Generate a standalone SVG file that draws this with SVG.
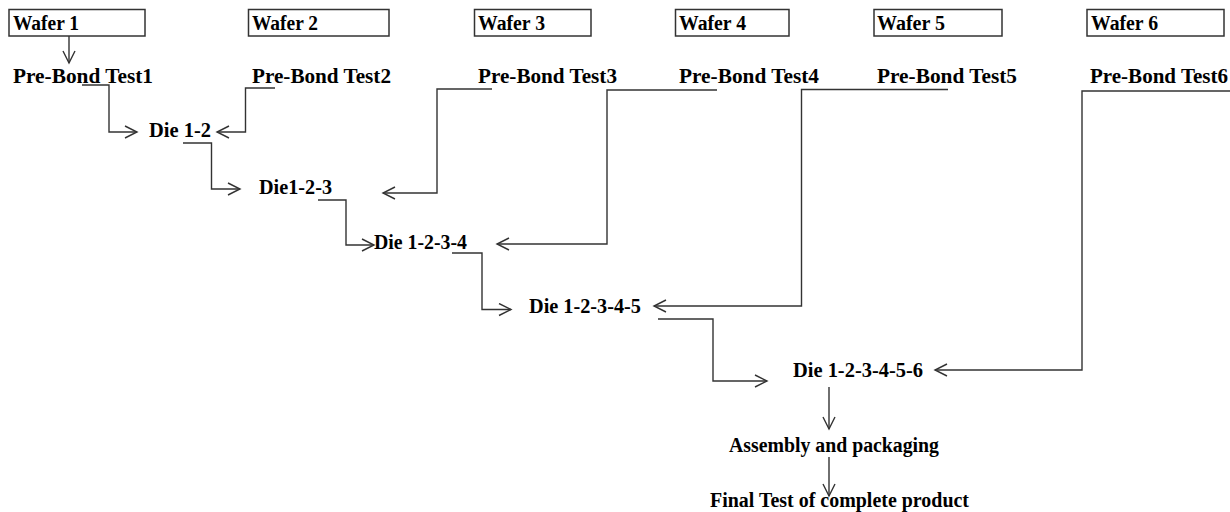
<svg xmlns="http://www.w3.org/2000/svg" width="1230" height="512" viewBox="0 0 1230 512">
<style>
.t{font-family:"Liberation Serif","Times New Roman",serif;font-weight:bold;font-size:20px;fill:#000}
.box{fill:#fff;stroke:#333;stroke-width:1.5}
.c{fill:none;stroke:#333;stroke-width:1.4}
</style>
<defs>
<marker id="ah" markerUnits="userSpaceOnUse" markerWidth="16" markerHeight="16" refX="13" refY="7" orient="auto">
<path d="M1,1 L13,7 L1,13" fill="none" stroke="#333" stroke-width="1.4"/>
</marker>
</defs>
<rect width="1230" height="512" fill="#fff"/>
<g id="wafer1"><rect class="box" x="9" y="9.5" width="136" height="26.5"/><text class="t" x="13" y="30" textLength="66" lengthAdjust="spacingAndGlyphs">Wafer 1</text></g>
<g id="wafer2"><rect class="box" x="248.5" y="9.5" width="140.5" height="26.5"/><text class="t" x="252" y="30" textLength="66" lengthAdjust="spacingAndGlyphs">Wafer 2</text></g>
<g id="wafer3"><rect class="box" x="474.5" y="9.5" width="116.5" height="26.5"/><text class="t" x="478" y="30" textLength="67" lengthAdjust="spacingAndGlyphs">Wafer 3</text></g>
<g id="wafer4"><rect class="box" x="675.5" y="9.5" width="113.5" height="26.5"/><text class="t" x="679" y="30" textLength="67" lengthAdjust="spacingAndGlyphs">Wafer 4</text></g>
<g id="wafer5"><rect class="box" x="874" y="9.5" width="128" height="26.5"/><text class="t" x="877" y="30" textLength="68" lengthAdjust="spacingAndGlyphs">Wafer 5</text></g>
<g id="wafer6"><rect class="box" x="1087" y="9.5" width="137" height="26.5"/><text class="t" x="1091" y="30" textLength="67" lengthAdjust="spacingAndGlyphs">Wafer 6</text></g>
<g id="pbt1"><text class="t" x="13" y="83" textLength="140" lengthAdjust="spacingAndGlyphs">Pre-Bond Test1</text></g>
<g id="pbt2"><text class="t" x="252" y="83" textLength="139" lengthAdjust="spacingAndGlyphs">Pre-Bond Test2</text></g>
<g id="pbt3"><text class="t" x="478" y="83" textLength="139" lengthAdjust="spacingAndGlyphs">Pre-Bond Test3</text></g>
<g id="pbt4"><text class="t" x="679" y="83" textLength="140" lengthAdjust="spacingAndGlyphs">Pre-Bond Test4</text></g>
<g id="pbt5"><text class="t" x="877" y="83" textLength="140" lengthAdjust="spacingAndGlyphs">Pre-Bond Test5</text></g>
<g id="pbt6"><text class="t" x="1090" y="83" textLength="138" lengthAdjust="spacingAndGlyphs">Pre-Bond Test6</text></g>
<g id="die12"><text class="t" x="149" y="137" textLength="62" lengthAdjust="spacingAndGlyphs">Die 1-2</text></g>
<g id="die123"><text class="t" x="259" y="194" textLength="73" lengthAdjust="spacingAndGlyphs">Die1-2-3</text></g>
<g id="die1234"><text class="t" x="374" y="249" textLength="93" lengthAdjust="spacingAndGlyphs">Die 1-2-3-4</text></g>
<g id="die12345"><text class="t" x="529" y="313" textLength="112" lengthAdjust="spacingAndGlyphs">Die 1-2-3-4-5</text></g>
<g id="die123456"><text class="t" x="793" y="377" textLength="130" lengthAdjust="spacingAndGlyphs">Die 1-2-3-4-5-6</text></g>
<g id="assembly"><text class="t" x="729" y="452" textLength="210" lengthAdjust="spacingAndGlyphs">Assembly and packaging</text></g>
<g id="final"><text class="t" x="710" y="507" textLength="259" lengthAdjust="spacingAndGlyphs">Final Test of complete product</text></g>
<g id="connectors">
<path class="c" d="M69,36 V63" marker-end="url(#ah)"/>
<path class="c" d="M82,85 H109 V132 H137" marker-end="url(#ah)"/>
<path class="c" d="M275,88 H245.5 V132 H217" marker-end="url(#ah)"/>
<path class="c" d="M183,143 H211.5 V189 H240" marker-end="url(#ah)"/>
<path class="c" d="M492,89 H437 V193 H383" marker-end="url(#ah)"/>
<path class="c" d="M318,200 H346 V245 H374" marker-end="url(#ah)"/>
<path class="c" d="M717,90 H607 V244 H497" marker-end="url(#ah)"/>
<path class="c" d="M452,253 H482 V309.5 H511" marker-end="url(#ah)"/>
<path class="c" d="M948,89.5 H801.5 V306 H654" marker-end="url(#ah)"/>
<path class="c" d="M658,319 H713 V381 H767" marker-end="url(#ah)"/>
<path class="c" d="M1230,91 H1082 V370 H935" marker-end="url(#ah)"/>
<path class="c" d="M829,387 V429" marker-end="url(#ah)"/>
<path class="c" d="M829,457 V496" marker-end="url(#ah)"/>
</g>
</svg>
